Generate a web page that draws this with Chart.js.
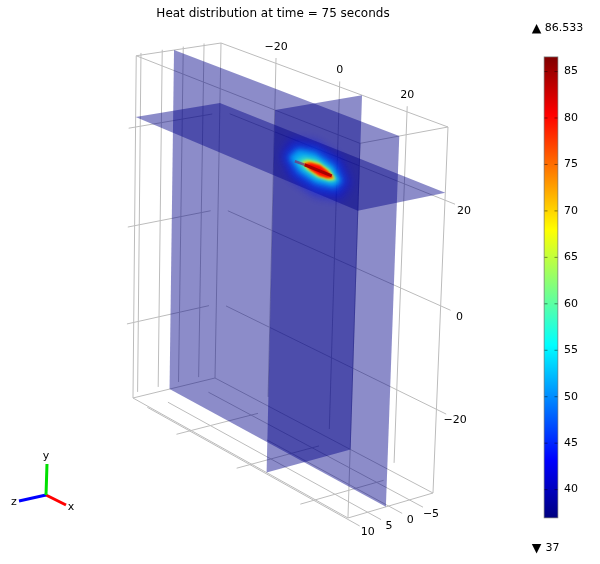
<!DOCTYPE html>
<html><head><meta charset="utf-8">
<style>html,body{margin:0;padding:0;background:#fff}#w{width:600px;height:564px;position:relative}canvas{display:block}</style>
<script src="https://cdn.jsdelivr.net/npm/chart.js@4"></script>
</head><body><div id="w"><canvas id="c" width="600" height="564"></canvas></div>
<script>
// ---------- data ----------
const titleText = 'Heat distribution at time = 75 seconds';
const xTicks = [-20, 0, 20];
const yTicks = [20, 0, -20];
const zTicks = [-5, 0, 5, 10];
const colorbarTicks = [85, 80, 75, 70, 65, 60, 55, 50, 45, 40];
const maxTemp = 86.533;
const minTemp = 37;
// domain of the 3D box
const xRange = [-38.2, 31.6];
const yRange = [-36.5, 33.6];
const zRange = [-9.13, 11.1];
// slice planes
const sliceX = 6.79;
const sliceY = 21.4;
const sliceZ = 2.2;
// temperature field on the slices: contour levels with their outlines (x, y at z = sliceZ)
const heatLevels = [42, 46, 50, 55, 60, 66, 70, 75, 80];
const heatX42 = [-3.1, -0.1, 7.9, 15.9, 18.9, 15.9, 7.9, -0.1];
const heatY42 = [21.5, 25.5, 27, 25.5, 21.5, 17.5, 16, 17.5];
const heatX46 = [-2.1, 0.9, 7.9, 14.9, 17.4, 14.9, 7.9, 0.9];
const heatY46 = [21.5, 24.7, 26, 24.7, 21.5, 18.3, 17, 18.3];
const heatX50 = [-1.1, 1.9, 7.9, 13.9, 16.4, 13.9, 7.9, 1.9];
const heatY50 = [21.5, 24.2, 25.1, 24.1, 21.3, 19, 18.2, 19];
const heatX55 = [-0.1, 2.6, 7.4, 13.1, 15.4, 13.4, 7.9, 2.9];
const heatY55 = [21.6, 23.8, 24.4, 23.3, 21.1, 19.5, 18.9, 19.7];
const heatX60 = [1.9, 4.2, 7.9, 12.4, 14.4, 12.4, 7.9, 4.2];
const heatY60 = [21.6, 22.9, 23.4, 22.6, 21, 20.1, 19.8, 20.4];
const heatX66 = [3.4, 5.2, 8.4, 11.9, 13.9, 11.9, 8.4, 5.2];
const heatY66 = [21.6, 22.6, 22.9, 22.3, 21, 20.3, 20.1, 20.7];
const heatX70 = [3.9, 5.6, 8.9, 11.9, 13.5, 11.9, 8.9, 5.6];
const heatY70 = [21.6, 22.4, 22.7, 22.1, 21.1, 20.5, 20.3, 20.8];
const heatX75 = [4.2, 5.9, 8.9, 11.4, 13.3, 11.4, 8.9, 5.9];
const heatY75 = [21.6, 22.3, 22.55, 22, 21.1, 20.6, 20.4, 20.9];
const heatX80 = [4.8, 6.5, 9.2, 11.4, 13, 11.4, 9.2, 6.5];
const heatY80 = [21.6, 22.2, 22.4, 21.9, 21.2, 20.7, 20.55, 20.9];
const heatOutlines = {42:[heatX42,heatY42],46:[heatX46,heatY46],50:[heatX50,heatY50],55:[heatX55,heatY55],60:[heatX60,heatY60],66:[heatX66,heatY66],70:[heatX70,heatY70],75:[heatX75,heatY75],80:[heatX80,heatY80]};
const coilX = [1.5, 4.5, 12.7];
const coilY = [21.3, 21.4, 21.4];

// ---------- camera (projective map of the unit box onto the page) ----------
const camO = [215, 378, 1];
const camU = [177.99, 69.45, -0.0924];
const camV = [-1.4, -336.44, -0.0335];
const camW = [-84.98, 11.08, -0.0224];
function project(x, y, z) {
  const u = (x - xRange[0]) / (xRange[1] - xRange[0]);
  const v = (y - yRange[0]) / (yRange[1] - yRange[0]);
  const w = (z - zRange[0]) / (zRange[1] - zRange[0]);
  const h = [0, 1, 2].map(i => camO[i] + u * camU[i] + v * camV[i] + w * camW[i]);
  return { x: h[0] / h[2], y: h[1] / h[2] };
}
function segs(list) { // list of [[x,y,z],[x,y,z]] → projected points with gaps
  const out = [];
  list.forEach(s => { s.forEach(p => out.push(project(p[0], p[1], p[2]))); out.push({ x: null, y: null }); });
  return out;
}
const [x0, x1] = xRange, [y0, y1] = yRange, [z0, z1] = zRange;

// ---------- colours ----------
const jetStops = [[0,'#000080'],[0.125,'#0000ff'],[0.375,'#00ffff'],[0.625,'#ffff00'],[0.875,'#ff0000'],[1,'#800000']];
function hex(c){return [1,3,5].map(i=>parseInt(c.substr(i,2),16));}
function jet(t, a) {
  const f = (t - minTemp) / (maxTemp - minTemp);
  for (let i = 1; i < jetStops.length; i++) {
    if (f <= jetStops[i][0]) {
      const k = (f - jetStops[i-1][0]) / (jetStops[i][0] - jetStops[i-1][0]);
      const A = hex(jetStops[i-1][1]), B = hex(jetStops[i][1]);
      return `rgba(${A.map((v,j)=>Math.round(v+(B[j]-v)*k)).join(',')},${a})`;
    }
  }
  return jetStops[5][1];
}
const gridColor = '#bcbcbc';
const planeColor = 'rgba(0,0,135,0.45)';
const fontFamily = '"DejaVu Sans", sans-serif';

// ---------- datasets, in painting order ----------
const painted = [];
const lineDs = (data, color, width, extra) => painted.push(Object.assign({ type:'scatter', data, showLine:true, borderColor:color, borderWidth:width, pointRadius:0, clip:false, spanGaps:false, tension:0, borderCapStyle:'butt' }, extra||{}));
const polyDs = (pts, fill, blur) => painted.push({ type:'scatter', data:pts, showLine:false, pointRadius:0, clip:false, polyFill:fill, polyBlur:blur||0 });
const textDs = (pts, labels, dx, dy, font) => painted.push({ type:'scatter', data:pts, showLine:false, pointRadius:0, clip:false, textLabels:labels, textDx:dx, textDy:dy, textFont:font });

// box edges
lineDs(segs([
  [[x0,y1,z1],[x0,y1,z0]],[[x0,y1,z0],[x1,y1,z0]],[[x1,y1,z0],[x1,y1,z1]],[[x1,y1,z1],[x0,y1,z1]],
  [[x0,y0,z1],[x0,y0,z0]],[[x0,y0,z0],[x1,y0,z0]],[[x1,y0,z0],[x1,y0,z1]],[[x1,y0,z1],[x0,y0,z1]],
  [[x0,y0,z0],[x0,y1,z0]],[[x1,y0,z0],[x1,y1,z0]],[[x0,y0,z1],[x0,y1,z1]],[[x1,y0,z1],[x1,y1,z1]]
]), gridColor, 1);
// grid lines
const below = y0 - 1.05;
lineDs(segs([
  ...xTicks.map(t => [[t, y0+1.9, z0],[t, y1+1.05, z0]]),
  ...yTicks.map(t => [[x0+3.35, t, z0],[x1+2.8, t, z0]]),
  ...yTicks.map(t => [[x0, t-0.6, z0+1.84],[x0, t-0.6, z1+1.62]]),
  ...zTicks.map(t => [[x0, y0+1.05, t],[x0, y1+0.42, t]]),
  ...zTicks.map(t => [[t===0 ? -8 : x0+3.5, below, t],[x1+2.1, below, t]]),
  ...xTicks.map(t => [[t, below, z0+2.43],[t, below, z1+2.02]])
]), gridColor, 1);

// slices
polyDs([project(x0,y0,sliceZ),project(x1,y0,sliceZ),project(x1,y1,sliceZ),project(x0,y1,sliceZ)], planeColor);
polyDs([project(sliceX,y0,z0),project(sliceX,y1,z0),project(sliceX,y1,z1),project(sliceX,y0,z1)], planeColor);
polyDs([project(x0,sliceY,z0),project(x1,sliceY,z0),project(x1,sliceY,z1),project(x0,sliceY,z1)], planeColor);

// temperature field
const levelAlpha = { 42:0.3, 46:0.38, 50:0.45, 55:0.5, 60:0.55, 66:0.65, 70:0.7, 75:0.85, 80:1 };
const levelBlur = { 42:5, 46:4, 50:3.5, 55:2.5, 60:2, 66:1.5, 70:1.2, 75:1, 80:0.8 };
heatLevels.forEach(t => {
  const [xs, ys] = heatOutlines[t];
  polyDs(xs.map((x, i) => project(x, ys[i], sliceZ)), jet(t, levelAlpha[t]), levelBlur[t]);
});
lineDs([project(coilX[0],coilY[0],sliceZ),project(coilX[1],coilY[1],sliceZ)], 'rgba(120,50,120,0.75)', 2.5);
lineDs([project(coilX[1],coilY[1],sliceZ),project(coilX[2],coilY[2],sliceZ)], '#a80000', 3);

// axis tick labels
const tickFont = '11px ' + fontFamily;
function lab(v){ return v < 0 ? '\u2212' + Math.abs(v) : String(v); }
textDs(xTicks.map(t => project(t, y1+1.05, z0)), xTicks.map(lab), 0, -11, tickFont);
textDs(yTicks.map(t => project(x1+2.8, t, z0)), yTicks.map(lab), 9, 6.5, tickFont);
textDs(zTicks.map(t => project(x1+2.1, below, t)), zTicks.map(lab), 8, 6.5, tickFont);

// orientation triad
const triadOrigin = { x:46, y:495 };
const triadTips = { x:{x:66,y:505}, y:{x:47,y:464}, z:{x:19,y:501} };
lineDs([triadOrigin, triadTips.x], '#ff0000', 3);
lineDs([triadOrigin, triadTips.z], '#0000ff', 3);
lineDs([triadOrigin, triadTips.y], '#00e000', 3);
textDs([{x:71,y:507},{x:46,y:456},{x:14,y:502}], ['x','y','z'], 0, 0, tickFont);

// colour bar
const barX = 551, barW = 13;
lineDs([{x:barX,y:minTemp-0.08},{x:barX,y:maxTemp+0.08}], '#7d7d7d', barW+1.5, { yAxisID:'yBar' });
lineDs([{x:barX,y:minTemp},{x:barX,y:maxTemp}], c => {
  const s = c.chart.scales.yBar;
  if (!s || !isFinite(s.top)) return '#000';
  const g = c.chart.ctx.createLinearGradient(0, s.getPixelForValue(minTemp), 0, s.getPixelForValue(maxTemp));
  jetStops.forEach(p => g.addColorStop(p[0], p[1]));
  return g;
}, barW, { yAxisID:'yBar' });
const tickMarks = [];
colorbarTicks.forEach(t => { [[barX-6.5,barX-3.5],[barX+3.5,barX+6.5]].forEach(([a,b]) => { tickMarks.push({x:a,y:t},{x:b,y:t},{x:null,y:null}); }); });
lineDs(tickMarks, 'rgba(0,0,0,0.45)', 1, { yAxisID:'yBar' });
// max / min read-outs
textDs([{x:536.5,y:28.5},{x:536.5,y:548.5}], ['\u25B2','\u25BC'], 0, 0, '12.5px ' + fontFamily);
textDs([{x:564,y:28.5}], [String(maxTemp)], 0, 0, tickFont);
textDs([{x:552.5,y:548.5}], [String(minTemp)], 0, 0, tickFont);

painted.forEach((d, i) => { d.order = painted.length - i; });

// ---------- plugins ----------
const sliceFill = {
  id: 'sliceFill',
  beforeDatasetDraw(chart, args) {
    const ds = chart.data.datasets[args.index];
    if (!ds.polyFill) return;
    const ctx = chart.ctx, pts = args.meta.data;
    ctx.save();
    if (ds.polyBlur) ctx.filter = `blur(${ds.polyBlur}px)`;
    ctx.fillStyle = ds.polyFill;
    ctx.beginPath();
    pts.forEach((p, i) => i ? ctx.lineTo(p.x, p.y) : ctx.moveTo(p.x, p.y));
    ctx.closePath();
    ctx.fill();
    ctx.restore();
  }
};
const pointText = {
  id: 'pointText',
  afterDatasetsDraw(chart) {
    const ctx = chart.ctx;
    chart.data.datasets.forEach((ds, i) => {
      if (!ds.textLabels) return;
      const pts = chart.getDatasetMeta(i).data;
      ctx.save();
      ctx.fillStyle = '#000';
      ctx.font = ds.textFont;
      ctx.textAlign = 'center';
      ctx.textBaseline = 'middle';
      ds.textLabels.forEach((t, j) => ctx.fillText(t, pts[j].x + ds.textDx, pts[j].y + ds.textDy));
      ctx.restore();
    });
  }
};

// ---------- chart ----------
// y scales cover the page below the title band; their ends follow from the bar's pixel extent
const barTopPx = 57.3, barBottomPx = 517.5, titleBand = 26, pageH = 564;
const perPx = (maxTemp - minTemp) / (barBottomPx - barTopPx);
new Chart(document.getElementById('c'), {
  data: { datasets: painted },
  plugins: [sliceFill, pointText],
  options: {
    responsive: false,
    animation: false,
    events: [],
    layout: { padding: { left:0, right:54, top:0, bottom:0 } },
    plugins: {
      legend: { display:false },
      tooltip: { enabled:false },
      title: { display:true, text:titleText, color:'#000', fullSize:false,
               font:{ family:fontFamily, size:12, weight:'normal', lineHeight:1 },
               padding:{ top:8, bottom:6 } }
    },
    scales: {
      x: { type:'linear', min:0, max:546, display:false },
      y: { type:'linear', min:titleBand, max:pageH, reverse:true, display:false },
      yBar: { type:'linear', display:true, position:{ x:578 },
              min: minTemp - (pageH-barBottomPx)*perPx,
              max: maxTemp + (barTopPx-titleBand)*perPx,
              border:{ display:false }, grid:{ display:false },
              afterBuildTicks: s => { s.ticks = colorbarTicks.map(v => ({ value:v })); },
              afterFit: s => { s.paddingTop = 0; s.paddingBottom = 0; s.paddingLeft = 0; s.paddingRight = 0; s.width = 0; },
              ticks:{ color:'#000', autoSkip:false, padding:0, font:{ family:fontFamily, size:11 }, callback: v => String(v) } }
    }
  }
});
</script></body></html>
